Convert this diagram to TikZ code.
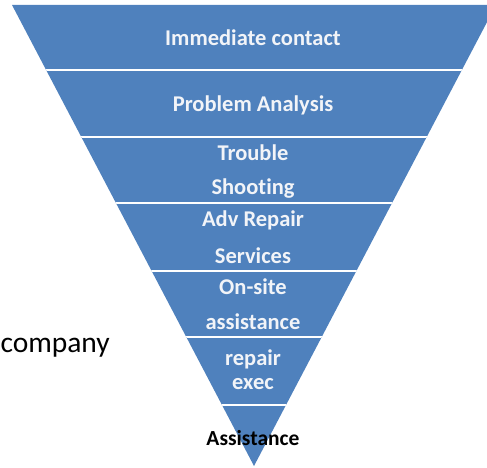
\documentclass[tikz,border=0pt]{standalone}
\usepackage{fontspec}
\setmainfont{Carlito}[Ligatures=NoCommon]
\usepackage{tikz}
\definecolor{funnelblue}{HTML}{4F81BD}
\definecolor{labelwhite}{HTML}{F2F4F8}
\tikzset{
  band/.style={font=\bfseries\fontsize{22.5}{27}\selectfont, text=labelwhite, inner sep=0pt},
  tip/.style={font=\bfseries\fontsize{21.5}{26}\selectfont, text=black, inner sep=0pt},
  side/.style={font=\fontsize{29.5}{35}\selectfont, text=black, inner sep=0pt},
}

\begin{document}
\begin{tikzpicture}[x=1pt, y=-1pt]
  \useasboundingbox (0,0) rectangle (487,468);
  % funnel body
  \coordinate (tl) at (12,5);
  \coordinate (tr) at (496,5);
  \coordinate (apex) at (254,466);
  \fill[funnelblue] (tl) -- (tr) -- (apex) -- cycle;
  % white gaps between the stages
  \begin{scope}
    \clip (tl) -- (tr) -- (apex) -- cycle;
    \foreach \y in {70,137,203,271,337,405}
      \draw[white, line width=2.5pt] (0,\y) -- (487,\y);
  \end{scope}
  % stage labels
  \node (contact)  [band] at (253,38)  {Immediate contact};
  \node (analysis) [band] at (253,105) {Problem Analysis};
  \node (trouble)  [band] at (253,153) {Trouble};
  \node (shooting) [band] at (253,189) {Shooting};
  \node (adv)      [band] at (253,220) {Adv Repair};
  \node (services) [band] at (253,256) {Services};
  \node (onsite)   [band] at (253,287) {On-site};
  \node (assist)   [band] at (253,322) {assistance};
  \node (repair)   [band] at (253,359) {repair};
  \node (exec)     [band] at (253,384) {exec};
  \node (final)    [tip]  at (253,438) {Assistance};
  \node (company)  [side, anchor=base east] at (110,352) {company};
\end{tikzpicture}
\end{document}
